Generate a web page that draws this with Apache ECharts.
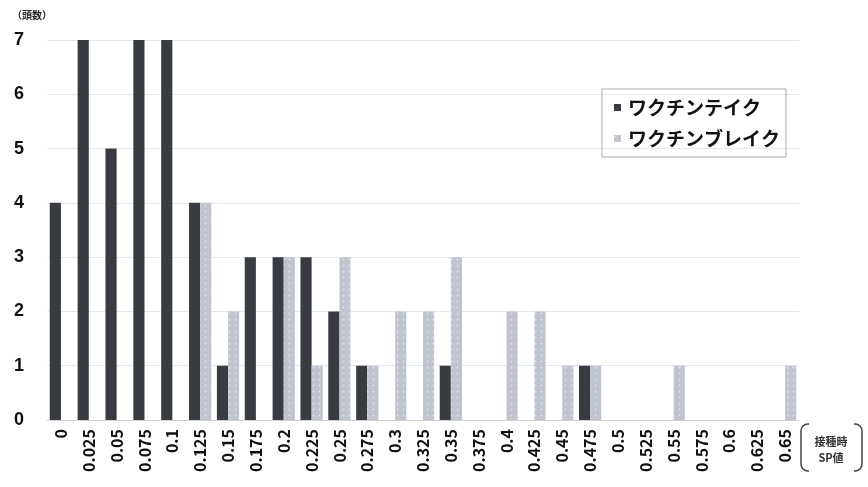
<!DOCTYPE html>
<html><head><meta charset="utf-8">
<script src="https://cdn.jsdelivr.net/npm/echarts@6/dist/echarts.min.js"></script>
<style>html,body{margin:0;padding:0;background:#fff}#c{width:868px;height:487px}</style>
</head><body><div id="c"></div>
<script>
const categories = ['0','0.025','0.05','0.075','0.1','0.125','0.15','0.175','0.2','0.225','0.25','0.275','0.3','0.325','0.35','0.375','0.4','0.425','0.45','0.475','0.5','0.525','0.55','0.575','0.6','0.625','0.65'];
const takeValues  = [4,7,5,7,7,4,1,3,3,3,2,1,0,0,1,0,0,0,0,1,0,0,0,0,0,0,0];
const breakValues = [0,0,0,0,0,4,2,0,3,1,3,1,2,2,3,0,2,2,1,1,0,0,1,0,0,0,1];
const seriesNames = ['ワクチンテイク','ワクチンブレイク'];
const yTicks = {min:0, max:7, interval:1};
const xAxisTitle = '接種時\nSP値';
const yAxisTitle = '（頭数）';

const font = '"Noto Sans CJK JP","Noto Sans",sans-serif';
const chart = echarts.init(document.getElementById('c'));
chart.setOption({
  backgroundColor:'#fff',
  animation:false,
  grid:{left:47, right:69, top:40, bottom:67},
  legend:{
    orient:'vertical', left:602, top:89,
    padding:[9,6,9,12], itemGap:12,
    borderColor:'#aaa', borderWidth:1,
    itemWidth:7, itemHeight:7, icon:'rect',
    textStyle:{fontFamily:font, fontSize:19, fontWeight:'bold', color:'#111', padding:[0,0,0,2]},
    data:seriesNames
  },
  xAxis:{
    type:'category', data:categories,
    axisLine:{lineStyle:{color:'#d0d0d0'}},
    axisTick:{show:false},
    axisLabel:{rotate:90, interval:0, fontFamily:font, fontSize:16, fontWeight:'bold', color:'#111', margin:9}
  },
  yAxis:{
    type:'value', min:yTicks.min, max:yTicks.max, interval:yTicks.interval,
    axisLine:{show:false}, axisTick:{show:false},
    splitLine:{lineStyle:{color:'#e4e8ee'}},
    axisLabel:{fontFamily:'"Liberation Sans",Arial,sans-serif', fontSize:18, fontWeight:'bold', color:'#111', margin:23},
    name:yAxisTitle, nameLocation:'end', nameGap:20,
    nameTextStyle:{fontFamily:font, fontSize:10, fontWeight:'bold', color:'#222', align:'center', padding:[0,0,0,-30]}
  },
  graphic:{elements:[
    {id:'box', type:'rect', z:100, shape:{x:801, y:424, width:61, height:47, r:7}, style:{fill:'#fff', stroke:'#444', lineWidth:1.5}},
    {id:'mt', type:'rect', z:101, shape:{x:809, y:421, width:45, height:6}, style:{fill:'#fff'}},
    {id:'mb', type:'rect', z:101, shape:{x:809, y:468, width:45, height:6}, style:{fill:'#fff'}},
    {id:'xt', type:'text', z:102, x:831, y:434, style:{text:xAxisTitle, font:'bold 11px '+font, fill:'#333', align:'center', lineHeight:16}}
  ]},
  series:[
    {name:seriesNames[0], type:'bar', data:takeValues, barGap:'0%', barCategoryGap:'20%',
      itemStyle:{color:'#383b40'}},
    {name:seriesNames[1], type:'bar', data:breakValues,
      itemStyle:{color:'#c0c4ce',
        decal:{symbol:'circle', symbolSize:0.6, dashArrayX:[[3,3]], dashArrayY:[3,3], color:'rgba(255,255,255,0.55)'}}}
  ]
});
</script></body></html>
